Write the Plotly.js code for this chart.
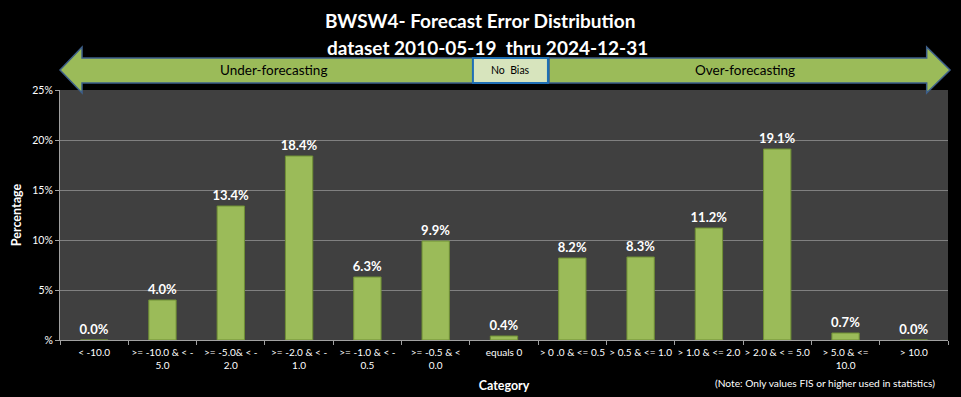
<!DOCTYPE html>
<html><head><meta charset="utf-8">
<script src="https://cdn.plot.ly/plotly-3.0.1.min.js"></script>
<style>html,body{margin:0;padding:0;background:#000;}#chart{width:961px;height:397px;}</style>
</head><body><div id="chart"></div>
<script>
const categories = ["< -10.0", ">= -10.0 & < -<br>5.0", ">= -5.0& < -<br>2.0", ">= -2.0 & < -<br>1.0", ">= -1.0 & < -<br>0.5", ">= -0.5 & <<br>0.0", "equals 0", "> 0 .0 & <= 0.5", "> 0.5 & <= 1.0", "> 1.0 & <= 2.0", "> 2.0 & < = 5.0", "> 5.0 & <=<br>10.0", "> 10.0"];
const percentages = [0.0, 4.0, 13.4, 18.4, 6.3, 9.9, 0.4, 8.2, 8.3, 11.2, 19.1, 0.7, 0.0];
const yTickVals = [0, 5, 10, 15, 20, 25];
const yTickText = ["%", "5%", "10%", "15%", "20%", "25%"];
const titleLine1 = "BWSW4- Forecast Error Distribution";
const titleLine2 = "dataset 2010-05-19  thru 2024-12-31";

const F = "Lato, 'Open Sans', sans-serif";
const trace = {
  type: 'bar', x: categories, y: percentages,
  text: percentages.map(v => v.toFixed(1) + '%'),
  textposition: 'outside', cliponaxis: false, constraintext: 'none',
  textfont: {family: F, size: 13, color: '#ffffff', weight: 'bold'},
  marker: {color: '#9bbb59', line: {color: '#6f8f35', width: 1}},
  hoverinfo: 'skip'
};

// arrow geometry in paper coords (paper height 250px, plot top at y=1)
const yMid = 1.08, yHt = 1.172, yHb = 0.988, yBt = 1.128, yBb = 1.028;
const leftArrow = `M 0 ${yMid} L 0.0248 ${yHt} L 0.0248 ${yBt} L 0.465 ${yBt} L 0.465 ${yBb} L 0.0248 ${yBb} L 0.0248 ${yHb} Z`;
const rightArrow = `M 0.5507 ${yBt} L 0.976 ${yBt} L 0.976 ${yHt} L 1.0023 ${yMid} L 0.976 ${yHb} L 0.976 ${yBb} L 0.5507 ${yBb} Z`;

const ann = (text, x, y, size, color, extra) => Object.assign({text, xref: 'paper', yref: 'paper', x, y, xanchor: 'center', yanchor: 'middle', showarrow: false, font: {family: F, size, color}}, extra || {});

const layout = {
  width: 961, height: 397,
  paper_bgcolor: '#000000', plot_bgcolor: '#404040',
  margin: {l: 60, r: 13, t: 90, b: 57},
  showlegend: false, bargap: 0.6,
  font: {family: F, color: '#ffffff'},
  xaxis: {
    type: 'category', tickson: 'boundaries', ticks: 'outside', ticklen: 4, tickcolor: '#a0a0a0',
    showline: true, linecolor: '#a0a0a0', showgrid: false, ticklabelstandoff: 3,
    tickfont: {family: F, size: 10, color: '#ffffff'}, tickangle: 0,
    title: {text: 'Category', font: {family: F, size: 12.5, color: '#ffffff', weight: 'bold'}, standoff: 11}
  },
  yaxis: {
    range: [0, 25], tickvals: yTickVals, ticktext: yTickText,
    ticks: 'outside', ticklen: 4, tickcolor: '#a0a0a0',
    showline: true, linecolor: '#a0a0a0', gridcolor: '#808080', gridwidth: 1, zeroline: false,
    tickfont: {family: F, size: 10.5, color: '#ffffff'},
    title: {text: 'Percentage', font: {family: F, size: 12.5, color: '#ffffff', weight: 'bold'}, standoff: 7}
  },
  shapes: [
    {type: 'path', xref: 'paper', yref: 'paper', path: leftArrow, fillcolor: '#9bbb59', line: {color: '#3d5f8a', width: 1.5}},
    {type: 'path', xref: 'paper', yref: 'paper', path: rightArrow, fillcolor: '#9bbb59', line: {color: '#3d5f8a', width: 1.5}},
    {type: 'rect', xref: 'paper', yref: 'paper', x0: 0.465, x1: 0.5495, y0: yBb, y1: yBt, fillcolor: '#d7e4bd', line: {color: '#1f6fb5', width: 2}}
  ],
  annotations: [
    ann('<b>' + titleLine1 + '</b>', 0.473, 1.28, 19, '#ffffff'),
    ann('<b>' + titleLine2 + '</b>', 0.481, 1.172, 19, '#ffffff'),
    ann('Under-forecasting', 0.24, yMid, 13.5, '#000000'),
    ann('Over-forecasting', 0.771, yMid, 13.5, '#000000'),
    ann('No  Bias', 0.5075, yMid, 10.5, '#000000'),
    ann('(Note: Only values FIS or higher used in statistics)', 0.988, -0.172, 10.2, '#ffffff', {xanchor: 'right'})
  ]
};
Plotly.newPlot('chart', [trace], layout, {displayModeBar: false, staticPlot: true});
</script></body></html>
